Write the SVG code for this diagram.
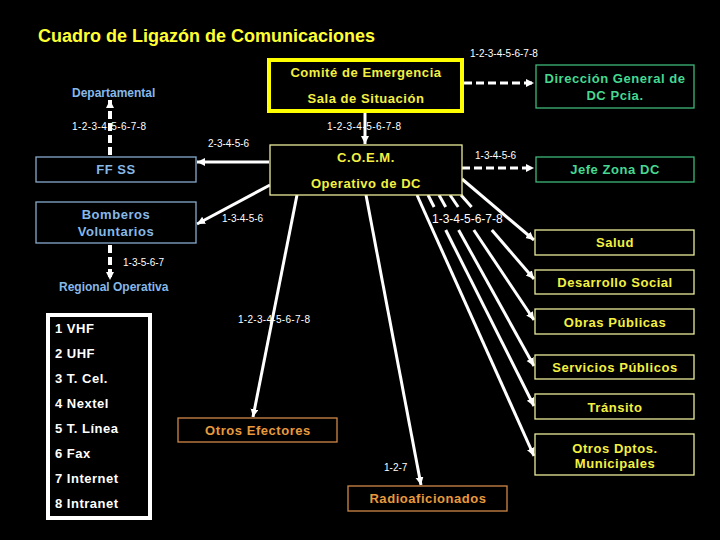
<svg xmlns="http://www.w3.org/2000/svg" width="720" height="540" viewBox="0 0 720 540">
<style>
text{font-family:"Liberation Sans",Arial,sans-serif;}
.b{font-weight:bold;font-size:13px;text-anchor:middle;letter-spacing:0.55px;}
.y{fill:#f4f040;}
.g{fill:#46d890;}
.bl{fill:#86b8e8;}
.o{fill:#e89a3c;}
.w{fill:#ffffff;}
.ybox{fill:#000;stroke:#ecec9a;stroke-width:1.3;}
.gbox{fill:#000;stroke:#3cb878;stroke-width:1.3;}
.bbox{fill:#000;stroke:#86aacc;stroke-width:1.3;}
.obox{fill:#000;stroke:#d08848;stroke-width:1.3;}
.ln{stroke:#fff;stroke-width:3;fill:none;}
.dl{stroke:#fff;stroke-width:3;fill:none;stroke-dasharray:8 4;}
.lbl{fill:#fff;font-size:10px;}
.leg{fill:#fff;font-weight:bold;font-size:13px;letter-spacing:0.5px;}
</style>
<defs>
<marker id="ah" markerUnits="userSpaceOnUse" markerWidth="9" markerHeight="9" refX="8" refY="4" orient="auto">
<path d="M0,0 L8,4 L0,8 z" fill="#fff"/>
</marker>
</defs>
<rect x="0" y="0" width="720" height="540" fill="#000"/>
<text x="38" y="42" font-size="18" font-weight="bold" fill="#ffff33">Cuadro de Ligazón de Comunicaciones</text>

<g id="connectors">
<line class="dl" x1="464" y1="83" x2="534" y2="83" marker-end="url(#ah)"/>
<line class="dl" x1="462" y1="168" x2="534" y2="168" marker-end="url(#ah)"/>
<line class="dl" x1="110" y1="155" x2="110" y2="100" style="stroke-width:4" marker-end="url(#ah)"/>
<line class="dl" x1="110" y1="245" x2="110" y2="280" style="stroke-width:4" marker-end="url(#ah)"/>
<line class="ln" x1="365" y1="113" x2="365" y2="144" marker-end="url(#ah)"/>
<line class="ln" x1="269" y1="162" x2="197" y2="162" marker-end="url(#ah)"/>
<line class="ln" x1="270" y1="185" x2="197" y2="224" marker-end="url(#ah)"/>
<line class="ln" x1="297" y1="195" x2="253" y2="417" marker-end="url(#ah)"/>
<line class="ln" x1="366" y1="195" x2="421" y2="485" marker-end="url(#ah)"/>
<line class="ln" x1="462" y1="179" x2="534" y2="240" marker-end="url(#ah)"/>
<line class="ln" x1="461" y1="195" x2="471.6" y2="207"/>
<line class="ln" x1="491.8" y1="230" x2="534" y2="279" marker-end="url(#ah)"/>
<line class="ln" x1="450" y1="195" x2="458.2" y2="207"/>
<line class="ln" x1="473.8" y1="230" x2="534" y2="320" marker-end="url(#ah)"/>
<line class="ln" x1="439" y1="195" x2="445.7" y2="207"/>
<line class="ln" x1="458.6" y1="230" x2="534" y2="366" marker-end="url(#ah)"/>
<line class="ln" x1="428" y1="195" x2="434.1" y2="207"/>
<line class="ln" x1="445.7" y1="230" x2="534" y2="406" marker-end="url(#ah)"/>
<line class="ln" x1="417" y1="195" x2="534" y2="456" marker-end="url(#ah)"/>
</g>

<g id="edge-labels">
<text class="lbl" x="470" y="57">1-2-3-4-5-6-7-8</text>
<text class="lbl" x="72" y="130" letter-spacing="0.45">1-2-3-4-5-6-7-8</text>
<text class="lbl" x="327" y="130" letter-spacing="0.45">1-2-3-4-5-6-7-8</text>
<text class="lbl" x="208" y="147">2-3-4-5-6</text>
<text class="lbl" x="475" y="159">1-3-4-5-6</text>
<text class="lbl" x="222" y="222">1-3-4-5-6</text>
<text class="lbl" x="432" y="223" style="font-size:12px">1-3-4-5-6-7-8</text>
<text class="lbl" x="123" y="266">1-3-5-6-7</text>
<text class="lbl" x="238" y="323" letter-spacing="0.3">1-2-3-4-5-6-7-8</text>
<text class="lbl" x="384" y="471">1-2-7</text>
</g>

<g id="comite">
<rect x="269" y="60" width="193" height="51" fill="#000" stroke="#ffff00" stroke-width="4"/>
<text class="b y" x="366" y="77">Comité de Emergencia</text>
<text class="b y" x="366" y="103">Sala de Situación</text>
</g>
<g id="direccion">
<rect class="gbox" x="536" y="65" width="158" height="43"/>
<text class="b g" x="615" y="83">Dirección General de</text>
<text class="b g" x="615" y="100">DC Pcia.</text>
</g>
<g id="departamental">
<text x="72" y="97" font-size="12" font-weight="bold" class="bl">Departamental</text>
</g>
<g id="coem">
<rect class="ybox" x="270" y="145" width="192" height="50"/>
<text class="b y" x="366" y="162">C.O.E.M.</text>
<text class="b y" x="366" y="188">Operativo de DC</text>
</g>
<g id="jefe-zona">
<rect class="gbox" x="536" y="157" width="158" height="25"/>
<text class="b g" x="615" y="174">Jefe Zona DC</text>
</g>
<g id="ffss">
<rect class="bbox" x="36" y="157" width="160" height="25"/>
<text class="b bl" x="116" y="174">FF SS</text>
</g>
<g id="bomberos">
<rect class="bbox" x="36" y="202" width="160" height="41"/>
<text class="b bl" x="116" y="219">Bomberos</text>
<text class="b bl" x="116" y="236">Voluntarios</text>
</g>
<g id="regional">
<text x="59" y="291" font-size="12" font-weight="bold" class="bl">Regional Operativa</text>
</g>
<g id="salud">
<rect class="ybox" x="535" y="230" width="159" height="25"/>
<text class="b y" x="615" y="247">Salud</text>
</g>
<g id="desarrollo">
<rect class="ybox" x="535" y="270" width="159" height="24"/>
<text class="b y" x="615" y="287">Desarrollo Social</text>
</g>
<g id="obras">
<rect class="ybox" x="535" y="309" width="159" height="25"/>
<text class="b y" x="615" y="327">Obras Públicas</text>
</g>
<g id="servicios">
<rect class="ybox" x="535" y="355" width="159" height="24"/>
<text class="b y" x="615" y="372">Servicios Públicos</text>
</g>
<g id="transito">
<rect class="ybox" x="535" y="394" width="159" height="25"/>
<text class="b y" x="615" y="412">Tránsito</text>
</g>
<g id="otros-dptos">
<rect class="ybox" x="535" y="434" width="159" height="41"/>
<text class="b y" x="615" y="453">Otros Dptos.</text>
<text class="b y" x="615" y="468">Municipales</text>
</g>
<g id="otros-efectores">
<rect class="obox" x="178" y="418" width="159" height="24"/>
<text class="b o" x="258" y="435">Otros Efectores</text>
</g>
<g id="radioaficionados">
<rect class="obox" x="348" y="486" width="159" height="25"/>
<text class="b o" x="428" y="503">Radioaficionados</text>
</g>
<g id="leyenda">
<rect x="48" y="315" width="102" height="203" fill="#000" stroke="#fff" stroke-width="4"/>
<text class="leg" x="55" y="333">1 VHF</text>
<text class="leg" x="55" y="358">2 UHF</text>
<text class="leg" x="55" y="383">3 T. Cel.</text>
<text class="leg" x="55" y="408">4 Nextel</text>
<text class="leg" x="55" y="433">5 T. Línea</text>
<text class="leg" x="55" y="458">6 Fax</text>
<text class="leg" x="55" y="483">7 Internet</text>
<text class="leg" x="55" y="508">8 Intranet</text>
</g>
</svg>
